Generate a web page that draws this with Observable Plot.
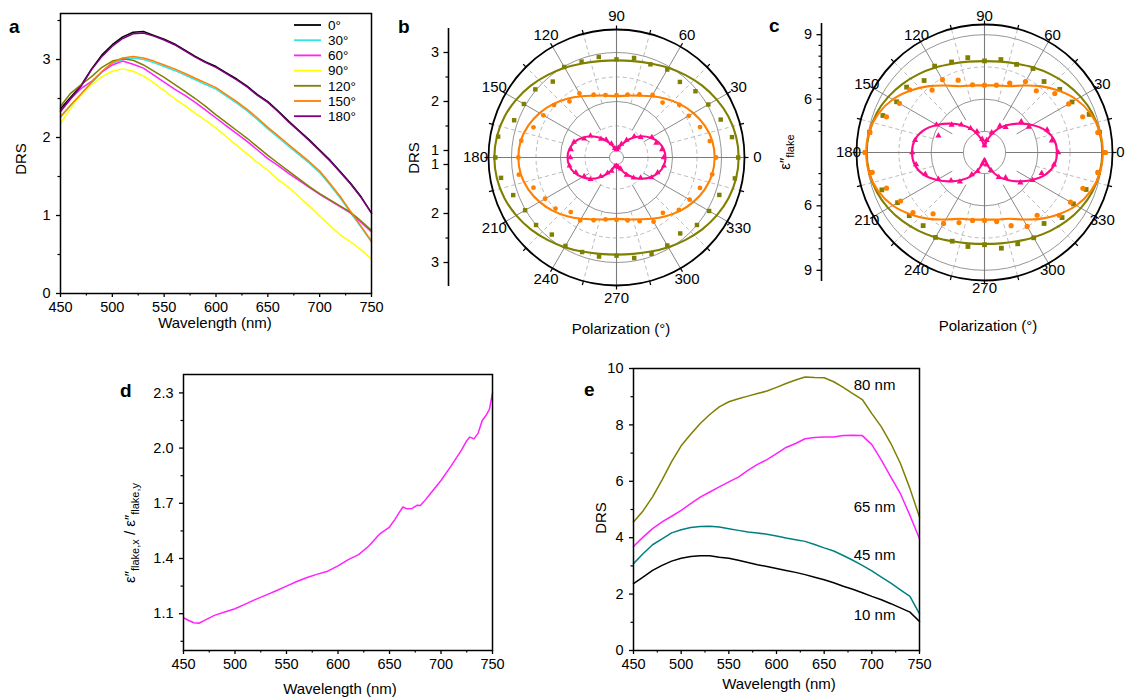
<!DOCTYPE html>
<html><head><meta charset="utf-8">
<script src="https://cdn.jsdelivr.net/npm/d3@7"></script>
<script src="https://cdn.jsdelivr.net/npm/@observablehq/plot@0.6"></script>
<style>
body{margin:0;background:#fff;}
#fig{position:relative;width:1126px;height:699px;overflow:hidden;background:#fff;font-family:"Liberation Sans",Arial,Helvetica,sans-serif;color:#000;}
</style></head><body><div id="fig"></div>
<script>
// ---------- data ----------
const wl = [450,460,470,480,490,500,510,520,530,540,550,560,570,580,590,600,610,620,630,640,650,660,670,680,690,700,710,720,730,740,750];

// panel a: DRS vs wavelength for polarization angles
const aNames = ["0°","30°","60°","90°","120°","150°","180°"];
const aColors = ["#000000","#33e6e6","#ff22ff","#ffff00","#7f7f00","#ff7f00","#800080"];
const a0   = [2.37,2.52,2.67,2.88,3.06,3.19,3.29,3.35,3.36,3.31,3.26,3.20,3.12,3.04,2.97,2.91,2.83,2.75,2.66,2.55,2.46,2.34,2.21,2.09,1.97,1.84,1.71,1.56,1.41,1.24,1.03];
const a30  = [2.26,2.41,2.55,2.70,2.84,2.95,3.00,3.02,3.00,2.96,2.91,2.86,2.80,2.74,2.68,2.62,2.53,2.44,2.34,2.23,2.11,2.00,1.89,1.78,1.67,1.55,1.39,1.22,1.03,0.85,0.66];
const a60  = [2.33,2.50,2.63,2.72,2.84,2.93,2.98,2.94,2.89,2.80,2.71,2.62,2.54,2.45,2.35,2.25,2.15,2.05,1.95,1.84,1.73,1.64,1.54,1.45,1.36,1.27,1.19,1.11,1.03,0.91,0.79];
const a90  = [2.18,2.38,2.55,2.68,2.78,2.85,2.88,2.85,2.79,2.70,2.60,2.50,2.41,2.31,2.22,2.12,2.01,1.90,1.79,1.68,1.58,1.46,1.36,1.24,1.12,0.99,0.87,0.75,0.66,0.56,0.44];
const a120 = [2.40,2.57,2.68,2.78,2.90,2.98,3.01,2.99,2.93,2.85,2.77,2.68,2.59,2.50,2.40,2.29,2.19,2.09,1.99,1.88,1.77,1.67,1.57,1.47,1.37,1.28,1.20,1.12,1.04,0.93,0.81];
const a150 = [2.27,2.42,2.56,2.71,2.85,2.96,3.02,3.04,3.02,2.98,2.93,2.88,2.82,2.76,2.70,2.64,2.55,2.46,2.36,2.25,2.13,2.02,1.91,1.80,1.69,1.57,1.41,1.24,1.05,0.86,0.67];
const a180 = [2.34,2.50,2.66,2.87,3.04,3.17,3.27,3.33,3.34,3.30,3.25,3.19,3.11,3.03,2.96,2.90,2.82,2.74,2.65,2.54,2.45,2.33,2.20,2.08,1.96,1.83,1.70,1.55,1.40,1.23,1.03];
const aSeries = [a0,a30,a60,a90,a120,a150,a180];

// polar panels
const polAngles = [0,10,20,30,40,50,60,70,80,90,100,110,120,130,140,150,160,170,180,190,200,210,220,230,240,250,260,270,280,290,300,310,320,330,340,350];
const polTickLabels = [0,30,60,90,120,150,180,210,240,270,300,330];

const bOlivePts  = [3.34,3.25,3.12,3.02,2.96,2.87,2.93,2.88,2.92,2.86,2.94,2.94,2.99,2.88,3.02,3.04,3.08,3.31,3.33,3.25,3.10,3.01,3.00,2.91,2.94,2.91,2.91,2.86,2.94,2.95,2.93,2.88,3.00,3.04,3.09,3.31];
const bOliveFit  = [3.35,3.335,3.29,3.22,3.14,3.05,2.97,2.90,2.855,2.84,2.855,2.90,2.97,3.05,3.14,3.22,3.29,3.335,3.35,3.335,3.29,3.22,3.14,3.05,2.97,2.90,2.855,2.84,2.855,2.90,2.97,3.05,3.14,3.22,3.29,3.335];
const bOrangePts = [2.89,2.79,2.67,2.56,2.53,2.32,2.33,2.23,2.16,2.13,2.15,2.22,2.37,2.35,2.52,2.58,2.66,2.83,2.86,2.88,2.66,2.54,2.48,2.31,2.34,2.22,2.14,2.13,2.16,2.24,2.37,2.33,2.52,2.58,2.67,2.84];
const bOrangeFit = [2.86,2.84,2.77,2.67,2.55,2.42,2.30,2.20,2.14,2.11,2.14,2.20,2.30,2.42,2.55,2.67,2.77,2.84,2.86,2.84,2.77,2.67,2.55,2.42,2.30,2.20,2.14,2.11,2.14,2.20,2.30,2.42,2.55,2.67,2.77,2.84];
const bPinkPts   = [1.82,1.80,1.72,1.69,1.50,1.42,1.27,1.15,1.06,1.02,1.05,1.16,1.28,1.35,1.55,1.62,1.78,1.80,1.80,1.83,1.74,1.62,1.55,1.36,1.22,1.15,1.04,1.03,1.06,1.10,1.27,1.40,1.50,1.68,1.75,1.84];
const bPinkFit   = [1.857,1.835,1.77,1.66,1.53,1.38,1.24,1.12,1.03,1.0,1.03,1.12,1.24,1.38,1.53,1.66,1.77,1.835,1.857,1.835,1.77,1.66,1.53,1.38,1.24,1.12,1.03,1.0,1.03,1.12,1.24,1.38,1.53,1.66,1.77,1.835];

const cOlivePts  = [9.05,8.95,8.70,8.22,8.09,7.83,8.03,7.88,7.91,7.78,8.00,8.00,8.16,7.89,8.25,8.24,8.55,8.95,9.05,8.90,8.60,8.19,8.09,7.96,8.08,7.91,7.96,7.81,8.04,8.04,8.10,7.83,8.23,8.30,8.55,8.90];
const cOliveFit  = [9.0,8.96,8.86,8.69,8.49,8.28,8.08,7.91,7.81,7.77,7.81,7.91,8.08,8.28,8.49,8.69,8.86,8.96,9.0,8.96,8.86,8.69,8.49,8.28,8.08,7.91,7.81,7.77,7.81,7.91,8.08,8.28,8.49,8.69,8.86,8.96];
const cOrangePts = [9.15,8.87,8.38,8.04,7.79,7.27,7.33,6.95,6.70,6.65,6.72,7.10,7.43,7.31,8.06,8.09,8.37,8.93,9.09,8.82,8.37,8.03,7.86,7.24,7.33,6.99,6.73,6.68,6.78,7.14,7.49,7.33,8.06,8.14,8.39,8.87];
const cOrangeFit = [9.02,8.97,8.78,8.45,8.0,7.55,7.12,6.80,6.69,6.64,6.69,6.80,7.12,7.55,8.0,8.45,8.78,8.97,9.02,8.97,8.78,8.45,8.0,7.55,7.12,6.80,6.69,6.64,6.69,6.80,7.12,7.55,8.0,8.45,8.78,8.97];
const cPinkPts   = [6.95,6.70,6.62,5.90,5.75,5.05,4.95,4.50,4.10,3.85,4.15,4.55,4.82,5.20,5.52,6.10,5.80,6.80,6.88,6.75,6.45,6.00,5.55,5.30,4.70,4.45,4.05,3.90,4.10,4.40,4.85,5.05,5.70,6.10,6.35,6.80];
const cPinkFit   = [6.89,6.82,6.54,6.08,5.61,5.19,4.80,4.38,4.03,3.80,4.03,4.38,4.80,5.19,5.61,6.08,6.54,6.82,6.89,6.82,6.54,6.08,5.61,5.19,4.80,4.38,4.03,3.80,4.03,4.38,4.80,5.19,5.61,6.08,6.54,6.82];

// panel d
const dWl    = [450,455,460,465,470,480,490,500,510,520,530,540,550,560,570,580,590,600,610,620,630,640,650,655,660,663,667,672,677,680,685,690,700,710,720,725,728,732,736,740,744,747,750];
const dRatio = [1.078,1.063,1.051,1.048,1.062,1.091,1.109,1.127,1.152,1.178,1.201,1.225,1.250,1.275,1.297,1.315,1.331,1.360,1.394,1.421,1.468,1.531,1.571,1.610,1.655,1.680,1.670,1.672,1.690,1.688,1.720,1.755,1.824,1.905,1.990,2.040,2.060,2.050,2.080,2.150,2.180,2.210,2.300];

// panel e
const eNames  = ["80 nm","65 nm","45 nm","10 nm"];
const eColors = ["#7f7f00","#ff22ff","#008080","#000000"];
const e80 = [4.56,4.95,5.45,6.05,6.70,7.26,7.67,8.05,8.37,8.64,8.82,8.93,9.02,9.11,9.20,9.33,9.47,9.59,9.70,9.68,9.67,9.53,9.33,9.11,8.90,8.40,7.93,7.34,6.63,5.74,4.73];
const e65 = [3.69,4.02,4.32,4.56,4.76,4.97,5.21,5.44,5.62,5.80,5.98,6.15,6.39,6.60,6.77,6.98,7.20,7.34,7.51,7.55,7.57,7.57,7.62,7.63,7.62,7.30,6.75,6.15,5.56,4.79,3.96];
const e45 = [3.08,3.43,3.75,3.96,4.17,4.28,4.36,4.40,4.41,4.38,4.32,4.26,4.20,4.17,4.12,4.06,3.99,3.93,3.87,3.76,3.64,3.53,3.37,3.20,3.02,2.82,2.60,2.39,2.15,1.92,1.30];
const e10 = [2.37,2.60,2.84,3.02,3.17,3.27,3.33,3.36,3.36,3.31,3.27,3.20,3.12,3.04,2.98,2.91,2.84,2.77,2.69,2.60,2.51,2.40,2.28,2.17,2.05,1.92,1.80,1.66,1.51,1.36,1.03];
const eSeries = [e80,e65,e45,e10];

// ticks
const xMajor = [450,500,550,600,650,700,750];
const xMinor = [475,525,575,625,675,725];

// ---------- helpers ----------
const fig = document.getElementById("fig");
const FONT = '"Liberation Sans", Arial, Helvetica, sans-serif';
const baseStyle = {fontFamily: FONT, fontSize: "14.5px", color: "black", background: "transparent", overflow: "visible"};
function place(node, left, top, w, h) {
  const d = document.createElement("div");
  d.style.cssText = `position:absolute;left:${left}px;top:${top}px;width:${w}px;height:${h}px;`;
  d.appendChild(node); fig.appendChild(d);
}
function cart({fx0, fy0, fw, fh, ydom, yMajor, yMinor, yFmt, marks}) {
  const mL = 60, mR = 15, mT = 15, mB = 35;
  const W = fw + mL + mR, H = fh + mT + mB;
  const svg = Plot.plot({
    width: W, height: H, marginLeft: mL, marginRight: mR, marginTop: mT, marginBottom: mB,
    x: {domain: [450, 750], label: null}, y: {domain: ydom, label: null},
    style: baseStyle,
    marks: [
      ...marks,
      Plot.frame({stroke: "black", strokeWidth: 1.5}),
      Plot.axisX({ticks: xMajor, tickSize: 4, tickPadding: 4, label: null, strokeWidth: 1.3}),
      Plot.axisX({ticks: xMinor, tickSize: 2.5, tickFormat: () => "", label: null, strokeWidth: 1.2}),
      Plot.axisY({ticks: yMajor, tickSize: 4, tickPadding: 6, tickFormat: yFmt, label: null, strokeWidth: 1.3}),
      Plot.axisY({ticks: yMinor, tickSize: 2.5, tickFormat: () => "", label: null, strokeWidth: 1.2})
    ]
  });
  place(svg, fx0 - mL, fy0 - mT, W, H);
}

// ---------- panel a ----------
cart({fx0: 60, fy0: 13, fw: 311, fh: 280, ydom: [0, 3.59],
  yMajor: [0,1,2,3], yMinor: [0.5,1.5,2.5,3.5], yFmt: d3.format("d"),
  marks: aSeries.map((s, k) => Plot.line(wl, {x: d => d, y: (d, i) => s[i], stroke: aColors[k], strokeWidth: 1.5}))
});

// ---------- panel d ----------
cart({fx0: 183, fy0: 374, fw: 309, fh: 276, ydom: [0.9, 2.4],
  yMajor: [1.1,1.4,1.7,2.0,2.3], yMinor: [0.95,1.25,1.55,1.85,2.15], yFmt: d3.format(".1f"),
  marks: [Plot.line(dWl, {x: d => d, y: (d, i) => dRatio[i], stroke: "#ff22ff", strokeWidth: 1.5})]
});

// ---------- panel e ----------
const eLabelY = [9.40, 5.07, 3.37, 1.24];
cart({fx0: 633, fy0: 368, fw: 286, fh: 282, ydom: [0, 10],
  yMajor: [0,2,4,6,8,10], yMinor: [1,3,5,7,9], yFmt: d3.format("d"),
  marks: [
    ...eSeries.map((s, k) => Plot.line(wl, {x: d => d, y: (d, i) => s[i], stroke: eColors[k], strokeWidth: 1.5})),
    Plot.text(eNames, {x: 681, y: (d, i) => eLabelY[i], text: d => d, textAnchor: "start", fontSize: 15})
  ]
});

// ---------- polar panels ----------
function polar(o) {
  const S = 330, h = S / 2 / o.ppu;
  const rad = deg => deg * Math.PI / 180;
  const px = (deg, v) => (v - o.r0) * Math.cos(rad(deg));
  const py = (deg, v) => (v - o.r0) * Math.sin(rad(deg));
  const outerV = o.r0 + o.outerPx / o.ppu;
  const ring = (v, dashed) => Plot.dot([{x: 0, y: 0}], {x: "x", y: "y", r: (v - o.r0) * o.ppu, fill: "none",
    stroke: dashed ? "#b4b4b4" : "#8a8a8a", strokeWidth: 0.9, strokeDasharray: dashed ? "4,3" : null});
  const axesSpokes = [0, 90, 180, 270].map(a => ({a, v1: o.holeV}));
  const otherSpokes = [30, 60, 120, 150, 210, 240, 300, 330].map(a => ({a, v1: o.midV}));
  const dashSpokes = [15,45,75,105,135,165,195,225,255,285,315,345].map(a => ({a, v1: o.dashV}));
  const tickAngles = [0,15,30,45,60,75,90,105,120,135,150,165,180,195,210,225,240,255,270,285,300,315,330,345];
  const link = (data, opts) => Plot.link(data, {x1: d => px(d.a, d.v1), y1: d => py(d.a, d.v1),
    x2: d => px(d.a, d.v2 ?? outerV), y2: d => py(d.a, d.v2 ?? outerV), ...opts});
  const marks = [
    ...o.solidRings.map(v => ring(v, false)),
    ...o.dashedRings.map(v => ring(v, true)),
    link(dashSpokes, {stroke: "#b4b4b4", strokeWidth: 0.9, strokeDasharray: "4,3"}),
    link(otherSpokes, {stroke: "#7a7a7a", strokeWidth: 0.9}),
    link(axesSpokes, {stroke: "#7a7a7a", strokeWidth: 1.1}),
    link(tickAngles.map(a => ({a, v1: outerV, v2: outerV + 4 / o.ppu})), {stroke: "black", strokeWidth: 1.2}),
    Plot.dot([{x: 0, y: 0}], {x: "x", y: "y", r: o.outerPx, fill: "none", stroke: "black", strokeWidth: 1.8}),
    Plot.text(polTickLabels, {x: a => Math.cos(rad(a)) * o.labelPx / o.ppu, y: a => Math.sin(rad(a)) * o.labelPx / o.ppu,
      text: a => String(a), fontSize: 15})
  ];
  for (const s of o.series) {
    const fit = polAngles.map((a, i) => ({a, v: s.fit[i]}));
    const pts = polAngles.map((a, i) => ({a, v: s.pts[i]}));
    marks.push(Plot.line(fit, {x: d => px(d.a, d.v), y: d => py(d.a, d.v), curve: "catmull-rom-closed", stroke: s.color, strokeWidth: 2.1}));
    marks.push(Plot.dot(pts, {x: d => px(d.a, d.v), y: d => py(d.a, d.v), symbol: s.symbol, fill: s.color, stroke: "none", r: s.r}));
  }
  const svg = Plot.plot({width: S, height: S, margin: 0, x: {domain: [-h, h], axis: null}, y: {domain: [-h, h], axis: null},
    style: baseStyle, marks});
  place(svg, o.cx - S / 2, o.cy - S / 2, S, S);

  // side radial axis
  const ext = 129 / o.ppu;
  const major = o.sideMajor.flatMap(v => [v - o.r0, -(v - o.r0)]);
  const minor = o.sideMinor.flatMap(v => [v - o.r0, -(v - o.r0)]);
  const side = Plot.plot({width: 60, height: S, marginLeft: 50, marginRight: 10, marginTop: 0, marginBottom: 0,
    x: {domain: [0, 1], axis: null}, y: {domain: [-h, h], label: null}, style: baseStyle,
    marks: [
      Plot.ruleX([0], {y1: -ext, y2: ext, stroke: "black", strokeWidth: 1.6}),
      Plot.axisY({ticks: major, tickSize: 4.5, tickPadding: 5, anchor: "left", label: null, strokeWidth: 1.3,
        tickFormat: d => String(Math.round(Math.abs(d) + o.r0))}),
      Plot.axisY({ticks: minor, tickSize: 2.5, anchor: "left", label: null, tickFormat: () => "", strokeWidth: 1.2})
    ]});
  place(side, o.axisX - 50, o.cy - S / 2, 60, S);
}

polar({cx: 615.7, cy: 157, ppu: 49, r0: 0.857, outerPx: 128, labelPx: 141,
  holeV: 1, midV: 1.5, dashV: 2, solidRings: [1, 2, 3], dashedRings: [1.5, 2.5],
  axisX: 448, sideMajor: [1, 2, 3], sideMinor: [1.5, 2.5],
  series: [
    {fit: bOliveFit, pts: bOlivePts, color: "#7f7f00", symbol: "square", r: 2.5},
    {fit: bOrangeFit, pts: bOrangePts, color: "#ff8000", symbol: "circle", r: 2.4},
    {fit: bPinkFit, pts: bPinkPts, color: "#ff0a8c", symbol: "triangle", r: 2.2}
  ]});

polar({cx: 984, cy: 152, ppu: 21.5, r0: 3.52, outerPx: 128, labelPx: 136,
  holeV: 4.5, midV: 5.25, dashV: 6, solidRings: [4.5, 6, 9], dashedRings: [7.5],
  axisX: 821, sideMajor: [6, 9], sideMinor: [4.5, 5, 5.5, 6.5, 7, 7.5, 8, 8.5],
  series: [
    {fit: cOliveFit, pts: cOlivePts, color: "#7f7f00", symbol: "square", r: 2.7},
    {fit: cOrangeFit, pts: cOrangePts, color: "#ff8000", symbol: "circle", r: 2.6},
    {fit: cPinkFit, pts: cPinkPts, color: "#ff0a8c", symbol: "triangle", r: 2.3}
  ]});

// ---------- text overlay (titles, axis labels, legend) ----------
const ov = d3.select(fig).append("svg").attr("width", 1126).attr("height", 699)
  .style("position", "absolute").style("left", "0px").style("top", "0px").style("pointer-events", "none")
  .style("font-family", FONT).style("font-size", "15px");

[["a", 9, 33], ["b", 398, 33], ["c", 769, 32], ["d", 120, 397], ["e", 584, 396]].forEach(([t, x, y]) =>
  ov.append("text").attr("x", x).attr("y", y).attr("font-weight", "bold").attr("font-size", 19).text(t));

function hText(t, x, y) { ov.append("text").attr("x", x).attr("y", y).attr("text-anchor", "middle").text(t); }
hText("Wavelength (nm)", 215, 328);
hText("Polarization (°)", 621, 334);
hText("Polarization (°)", 988, 331);
hText("Wavelength (nm)", 340, 694);
hText("Wavelength (nm)", 779, 689);

function vTextSub(parts, x, y) {
  const t = ov.append("text").attr("transform", `translate(${x},${y}) rotate(-90)`).attr("text-anchor", "middle");
  let shifted = false;
  parts.forEach(([s, sub], i) => {
    const sp = t.append("tspan").text(s);
    if (i === 0) sp.attr("dy", "0.35em");
    if (sub && !shifted) { sp.attr("font-size", 11).attr("dy", "4"); shifted = true; }
    else if (!sub && shifted) { sp.attr("dy", "-4"); shifted = false; }
  });
}
vTextSub([["DRS", false]], 21, 159);
vTextSub([["DRS", false]], 414, 158);
vTextSub([["DRS", false]], 601, 518);
vTextSub([["ε″", false], ["flake", true]], 785, 152);
vTextSub([["ε″", false], ["flake,x", true], [" / ε″", false], ["flake,y", true]], 130, 533);

// legend panel a
const legend = ov.append("g").attr("font-size", 13.5);
aNames.forEach((name, k) => {
  const y = 25 + k * 15.2;
  legend.append("line").attr("x1", 294).attr("x2", 321).attr("y1", y).attr("y2", y).attr("stroke", aColors[k]).attr("stroke-width", 1.8);
  legend.append("text").attr("x", 328).attr("y", y).attr("dy", "0.36em").text(name);
});
</script></body></html>
